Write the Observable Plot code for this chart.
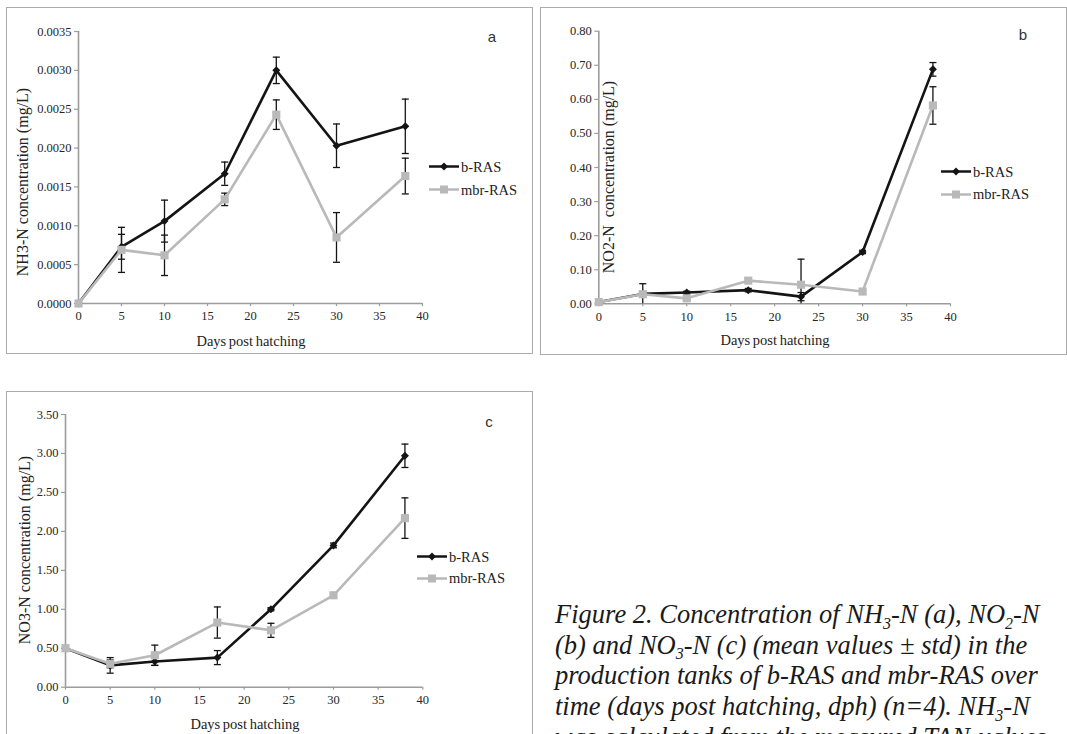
<!DOCTYPE html>
<html><head><meta charset="utf-8">
<script src="https://cdn.jsdelivr.net/npm/d3@7"></script>
<script src="https://cdn.jsdelivr.net/npm/@observablehq/plot@0.6"></script>
<style>
body{margin:0;background:#fff;}
#fig{position:relative;width:1067px;height:734px;overflow:hidden;background:#fff;font-family:"Liberation Serif",serif;}
.frame{position:absolute;border:1.5px solid #ababab;box-sizing:border-box;pointer-events:none;}
.panel{position:absolute;}
.panel svg{display:block;overflow:visible;}
.panel svg text{font-family:"Liberation Serif",serif !important;}
.xt{position:absolute;font-family:"Liberation Serif",serif;font-size:14.5px;color:#222;transform:translate(-50%,-50%);white-space:pre;word-spacing:-1px;}
.yt{position:absolute;font-family:"Liberation Serif",serif;font-size:16px;color:#222;transform:translate(-50%,-50%) rotate(-90deg);white-space:pre;}
.letter{position:absolute;font-family:"Liberation Sans",sans-serif;font-size:15px;color:#333;transform:translate(-50%,-50%);}
.legrow{position:absolute;display:flex;align-items:center;transform:translateY(-50%);font-family:"Liberation Serif",serif;font-size:14.5px;color:#222;white-space:nowrap;}
.legrow svg{display:block;margin-right:2px;}
.cap{position:absolute;left:555px;top:599px;font-family:"Liberation Serif",serif;font-style:italic;font-size:26.5px;line-height:30.7px;white-space:nowrap;color:#1a1a1a;}
.cap .s{font-size:0.6em;line-height:0;position:relative;top:0.35em;}
</style>
</head><body>
<div id="fig"></div>
<script>
// ---- data ----
const days = [0, 5, 10, 17, 23, 30, 38];
const seriesNames = ["b-RAS", "mbr-RAS"];
const xTicks = [0, 5, 10, 15, 20, 25, 30, 35, 40];

const nh3B   = [0, 0.00073, 0.00106, 0.00167, 0.00300, 0.00203, 0.00228];
const nh3BSd = [0, 0.00016, 0.00027, 0.00015, 0.00017, 0.00028, 0.00035];
const nh3M   = [0, 0.00069, 0.00062, 0.00134, 0.00243, 0.00085, 0.00164];
const nh3MSd = [0, 0.00029, 0.00026, 0.00008, 0.00019, 0.00032, 0.00023];
const nh3Ticks = [0, 0.0005, 0.001, 0.0015, 0.002, 0.0025, 0.003, 0.0035];

const no2B   = [0.005, 0.029, 0.033, 0.040, 0.021, 0.152, 0.688];
const no2BSd = [0, 0.030, 0.004, 0.005, 0.012, 0.005, 0.020];
const no2M   = [0.005, 0.028, 0.016, 0.068, 0.056, 0.036, 0.582];
const no2MSd = [0, 0.008, 0.004, 0.006, 0.075, 0.004, 0.055];
const no2Ticks = [0, 0.1, 0.2, 0.3, 0.4, 0.5, 0.6, 0.7, 0.8];

const no3B   = [0.50, 0.28, 0.33, 0.38, 1.00, 1.82, 2.97];
const no3BSd = [0, 0.10, 0.05, 0.09, 0.02, 0.03, 0.15];
const no3M   = [0.50, 0.30, 0.41, 0.83, 0.73, 1.18, 2.17];
const no3MSd = [0, 0.05, 0.13, 0.20, 0.09, 0.02, 0.26];
const no3Ticks = [0, 0.5, 1.0, 1.5, 2.0, 2.5, 3.0, 3.5];

// ---- styles ----
const BLACK = "#141414", GRAY = "#b9b9b9", AXIS = "#9c9c9c";
const capSym = {draw(ctx) { ctx.moveTo(-3.5, 0); ctx.lineTo(3.5, 0); }};
const FONT = "Liberation Serif";

const fig = document.getElementById("fig");
function add(cls, style, html) {
  const d = document.createElement("div");
  d.className = cls;
  Object.assign(d.style, style);
  if (html != null) d.innerHTML = html;
  fig.appendChild(d);
  return d;
}

function errMarks(data, ymin) {
  const w = data.filter(d => d.sd > 0);
  const o = {stroke: BLACK, strokeWidth: 1.3};
  return [
    Plot.ruleX(w, {x: "day", y1: d => Math.max(ymin, d.v - d.sd), y2: d => d.v + d.sd, ...o}),
    Plot.dot(w, {x: "day", y: d => d.v + d.sd, symbol: capSym, r: 3, fill: "none", ...o}),
    Plot.dot(w.filter(d => d.v - d.sd > ymin), {x: "day", y: d => d.v - d.sd, symbol: capSym, r: 3, fill: "none", ...o})
  ];
}

function panel(cfg) {
  const mk = (vals, sds) => days.map((d, i) => ({day: d, v: vals[i], sd: sds[i]}));
  const B = mk(cfg.b, cfg.bsd), M = mk(cfg.m, cfg.msd);
  const ymax = cfg.yTicks[cfg.yTicks.length - 1];
  const chart = Plot.plot({
    width: cfg.w, height: cfg.h,
    marginLeft: cfg.ml, marginRight: cfg.mr, marginTop: cfg.mt, marginBottom: cfg.mb,
    x: {domain: [0, 40]},
    y: {domain: [0, ymax]},
    style: {fontFamily: FONT, fontSize: "12.5px", background: "transparent"},
    marks: [
      Plot.axisX({ticks: xTicks, tickSize: 3, tickPadding: 5, stroke: AXIS, fill: "#262626", strokeWidth: 1.2, fontFamily: FONT, fontSize: 12.5, label: null}),
      Plot.axisY({ticks: cfg.yTicks, tickFormat: d3.format(cfg.fmt), tickSize: 4, tickPadding: 3, stroke: AXIS, fill: "#262626", strokeWidth: 1.2, fontFamily: FONT, fontSize: 12.5, label: null}),
      Plot.ruleY([0], {stroke: AXIS, strokeWidth: 1.6}),
      Plot.ruleX([0], {stroke: AXIS, strokeWidth: 1.6}),
      ...errMarks(B, 0),
      Plot.line(B, {x: "day", y: "v", stroke: BLACK, strokeWidth: 2.6}),
      Plot.dot(B, {x: "day", y: "v", symbol: "diamond2", r: 3.6, fill: BLACK}),
      ...errMarks(M, 0),
      Plot.line(M, {x: "day", y: "v", stroke: GRAY, strokeWidth: 2.6}),
      Plot.dot(M, {x: "day", y: "v", symbol: "square", r: 4.6, fill: GRAY})
    ]
  });
  const p = add("panel", {left: cfg.left + "px", top: cfg.top + "px"});
  p.appendChild(chart);
  add("frame", {left: cfg.fl + "px", top: cfg.ft + "px", width: cfg.fw + "px", height: cfg.fh + "px"});
  add("xt", {left: cfg.xtx + "px", top: cfg.xty + "px"}, "Days post hatching");
  add("yt", {left: cfg.ytx + "px", top: cfg.yty + "px"}, cfg.ytitle);
  add("letter", {left: cfg.lx + "px", top: cfg.ly + "px"}, cfg.letter);
  const sw = [
    `<svg width="30" height="12"><line x1="0" y1="6" x2="30" y2="6" stroke="${BLACK}" stroke-width="2.6"/><path d="M15,2 L19,6 L15,10 L11,6Z" fill="${BLACK}"/></svg>`,
    `<svg width="30" height="12"><line x1="0" y1="6" x2="30" y2="6" stroke="${GRAY}" stroke-width="2.6"/><rect x="11" y="2" width="8" height="8" fill="${GRAY}"/></svg>`
  ];
  seriesNames.forEach((n, i) => add("legrow", {left: cfg.legx + "px", top: cfg.legy[i] + "px"}, sw[i] + "<span>" + n + "</span>"));
}

panel({b: nh3B, bsd: nh3BSd, m: nh3M, msd: nh3MSd, yTicks: nh3Ticks, fmt: ".4f",
  left: 7, top: 8, w: 525, h: 345, ml: 71, mr: 110, mt: 23, mb: 50,
  fl: 6, ft: 7, fw: 527, fh: 347,
  xtx: 251, xty: 341, ytx: 23, yty: 182, ytitle: "NH3-N concentration (mg/L)",
  lx: 492, ly: 36, letter: "a", legx: 429, legy: [166.5, 189.5]});

panel({b: no2B, bsd: no2BSd, m: no2M, msd: no2MSd, yTicks: no2Ticks, fmt: ".2f",
  left: 541, top: 8, w: 525, h: 346, ml: 57.3, mr: 116, mt: 22.7, mb: 50.7,
  fl: 540, ft: 7, fw: 527, fh: 348,
  xtx: 775, xty: 340, ytx: 609, yty: 177, ytitle: "NO2-N  concentration (mg/L)",
  lx: 1023, ly: 34, letter: "b", legx: 941, legy: [171.5, 194]});

panel({b: no3B, bsd: no3BSd, m: no3M, msd: no3MSd, yTicks: no3Ticks, fmt: ".2f",
  left: 7, top: 392, w: 525, h: 342, ml: 58, mr: 109.7, mt: 22, mb: 47.3,
  fl: 6, ft: 391, fw: 527, fh: 360,
  xtx: 245, xty: 724, ytx: 25, yty: 550, ytitle: "NO3-N concentration (mg/L)",
  lx: 489, ly: 421, letter: "c", legx: 417, legy: [556.7, 578.3]});

add("cap", {},
  'Figure 2. Concentration of NH<span class="s">3</span>-N (a), NO<span class="s">2</span>-N<br>' +
  '(b) and NO<span class="s">3</span>-N (c) (mean values ± std) in the<br>' +
  'production tanks of b-RAS and mbr-RAS over<br>' +
  'time (days post hatching, dph) (n=4). NH<span class="s">3</span>-N<br>' +
  'was calculated from the measured TAN-values.');
</script>
</body></html>
